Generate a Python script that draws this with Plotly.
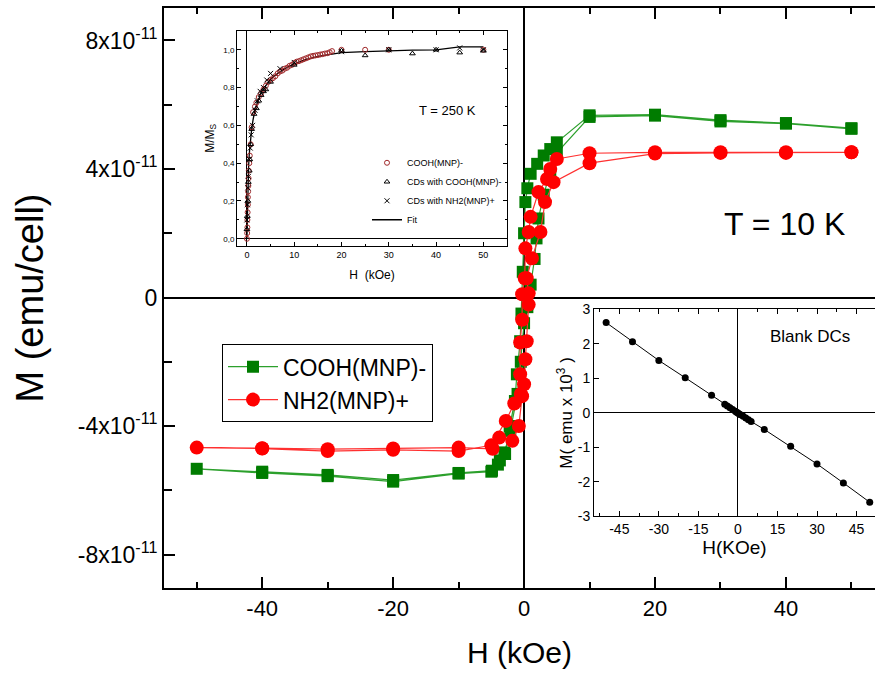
import plotly.graph_objects as go

# ---------------- main hysteresis loops (T = 10 K) ----------------
cooh_H = [50, 40, 30, 20, 10, 5, 4, 3, 2, 1, 0.5, 0.2, 0, -0.2, -0.4, -0.6, -1.1, -1.4, -2.2, -2.9, -3.7, -4.9,
          -10, -20, -30, -40, -50,
          -40, -30, -20, -10, -5, -4, -3, -2.1, -1, -0.5, 0, 0.5, 1.0, 1.6, 1.9, 2.2, 3.0, 4.0, 5.0,
          10, 20, 30, 40, 50]
cooh_M = [5.27, 5.43, 5.52, 5.69, 5.67, 4.83, 4.62, 4.42, 4.16, 3.85, 3.4, 2.97, 2.0, 0.8, -0.5, -1.36, -2.39, -3.22, -4.0, -4.87, -5.07, -5.39,
          -5.46, -5.68, -5.52, -5.42, -5.33,
          -5.46, -5.56, -5.73, -5.48, -5.42, -5.2, -4.82, -4.15, -3.0, -2.0, -0.8, -0.3, 0.4, 1.2, 1.84, 2.46, 3.2, 3.9, 4.5,
          5.62, 5.66, 5.48, 5.41, 5.25]

nh2_H = [50, 40, 30, 20, 10, 5, 4, 3.5, 2.2, 1.0, 0.7, 0.2, 0.1, -0.3, -0.3, -0.6, -0.6, -0.3, -0.8, -1.8, -3.8, -4.8,
         -10, -20, -30, -40, -50,
         -40, -30, -20, -10, -5, -2.8, -1.5, -0.5, 0, 0.2, 0.4, 0.7, 0.7, 0.4, 1.2, 2.5, 3.2, 4.5,
         10, 20, 30, 40, 50]
nh2_M = [4.52, 4.52, 4.52, 4.52, 4.49, 4.31, 4.0, 3.69, 3.28, 2.51, 2.04, 1.53, 0.6, 0.1, -0.69, -1.4, -2.39, -3.07, -4.0, -4.46, -4.36, -4.71,
         -4.67, -4.70, -4.72, -4.69, -4.67,
         -4.70, -4.78, -4.74, -4.78, -4.60, -3.84, -3.3, -3.0, -2.7, -1.92, -1.36, -0.22, 0.13, 0.6, 1.22, 2.04, 2.97, 3.59,
         4.18, 4.48, 4.50, 4.50, 4.52]

# ---------------- inset 1: M/Ms at 250 K ----------------
in_cooh_H = [0, 0.05, 0.1, 0.1, 0.15, 0.2, 0.2, 0.25, 0.3, 0.35, 0.4, 0.5, 0.6, 0.8, 1.0, 1.3, 1.7, 2.0, 2.5, 3.0,
             3.5, 4.0, 4.5, 5.0, 5.5, 6.0, 6.5, 7.0, 7.5, 8.0, 8.5, 9.0, 9.5, 10, 10.5, 11, 11.5, 12, 12.5, 13,
             13.5, 14, 14.5, 15, 15.5, 16, 16.5, 17, 17.5, 18, 20, 25, 30, 50]
in_cooh_M = [0, 0.03, 0.06, 0.1, 0.14, 0.18, 0.22, 0.25, 0.28, 0.32, 0.36, 0.4, 0.44, 0.5, 0.59, 0.67, 0.7, 0.72, 0.75, 0.77,
             0.79, 0.81, 0.83, 0.84, 0.85, 0.86, 0.875, 0.885, 0.89, 0.9, 0.905, 0.915, 0.92, 0.93, 0.937, 0.94, 0.945, 0.95, 0.955, 0.96,
             0.965, 0.968, 0.97, 0.972, 0.975, 0.977, 0.98, 0.982, 0.987, 0.993, 1.0, 1.0, 1.0, 1.0]
in_cdc_H = [0, 0.1, 0.2, 0.3, 0.5, 0.6, 0.8, 1.0, 1.5, 2.0, 2.5, 3.0, 3.5, 4.0, 5.0, 10, 20, 25, 30, 35, 40, 45, 50]
in_cdc_M = [0.05, 0.12, 0.2, 0.3, 0.36, 0.42, 0.5, 0.58, 0.66, 0.69, 0.73, 0.76, 0.78, 0.79, 0.83, 0.92, 0.995, 0.97, 1.0, 0.98, 1.0, 0.985, 0.995]
in_cdn_H = [0, 0.1, 0.2, 0.3, 0.5, 0.7, 0.9, 1.2, 1.7, 2.2, 2.8, 3.5, 4.2, 5.0, 7.0, 10, 20, 30, 40, 45, 50]
in_cdn_M = [0.1, 0.18, 0.27, 0.33, 0.42, 0.48, 0.55, 0.6, 0.68, 0.73, 0.78, 0.8, 0.84, 0.875, 0.9, 0.933, 0.99, 1.0, 1.0, 1.01, 1.0]
fit_H = [0, 0.1, 0.2, 0.35, 0.5, 0.7, 1.0, 1.3, 1.7, 2.2, 3, 4, 5, 6, 7, 8, 10, 12, 15, 18, 20, 25, 30, 35, 40, 45, 50]
fit_M = [0, 0.17, 0.28, 0.38, 0.45, 0.52, 0.58, 0.63, 0.68, 0.72, 0.77, 0.81, 0.845, 0.865, 0.885, 0.9, 0.925, 0.945, 0.965,
         0.978, 0.985, 0.99, 0.995, 0.998, 1.0, 1.015, 1.015]

# ---------------- inset 2: blank DCs ----------------
blank_H = [-50, -40, -30, -20, -10, -5, -4, -3, -2, -1, -0.5, 0, 0.5, 1, 2, 3, 4, 5, 10, 20, 30, 40, 50]
blank_M = [2.62, 2.06, 1.52, 1.02, 0.51, 0.25, 0.2, 0.15, 0.1, 0.05, 0.02, 0, -0.03, -0.05, -0.1, -0.15, -0.2, -0.25,
           -0.48, -0.97, -1.48, -2.03, -2.59]

# tick labels
main_xticks = [-40, -20, 0, 20, 40]
main_xticktext = ["-40", "-20", "0", "20", "40"]
main_yticks = [-8e-11, -4e-11, 0, 4e-11, 8e-11]
main_yticktext = ["-8x10<sup>-11</sup>", "-4x10<sup>-11</sup>", "0", "4x10<sup>-11</sup>", "8x10<sup>-11</sup>"]
in1_xticks = [0, 10, 20, 30, 40, 50]
in1_xticktext = ["0", "10", "20", "30", "40", "50"]
in1_yticks = [0, 0.2, 0.4, 0.6, 0.8, 1.0]
in1_yticktext = ["0,0", "0,2", "0,4", "0,6", "0,8", "1,0"]
in2_xticks = [-45, -30, -15, 0, 15, 30, 45]
in2_xticktext = ["-45", "-30", "-15", "0", "15", "30", "45"]
in2_yticks = [-3, -2, -1, 0, 1, 2, 3]
in2_yticktext = ["-3", "-2", "-1", "0", "1", "2", "3"]

FONT = "Arial, Liberation Sans, sans-serif"
GREEN = "#007c00"
RED = "#ff0000"

fig = go.Figure()

fig.add_trace(go.Scatter(x=cooh_H, y=[v * 1e-11 for v in cooh_M], mode="lines+markers", name="COOH(MNP)-",
                         line=dict(color="#2ca02c", width=1.2), marker=dict(symbol="square", size=12, color=GREEN),
                         xaxis="x", yaxis="y"))
fig.add_trace(go.Scatter(x=nh2_H, y=[v * 1e-11 for v in nh2_M], mode="lines+markers", name="NH2(MNP)+",
                         line=dict(color="#ff3030", width=1.2), marker=dict(symbol="circle", size=14, color=RED),
                         xaxis="x", yaxis="y"))

# inset 1
fig.add_trace(go.Scatter(x=fit_H, y=fit_M, mode="lines", name="Fit", line=dict(color="black", width=1.3),
                         xaxis="x2", yaxis="y2", legend="legend2", legendrank=4))
fig.add_trace(go.Scatter(x=in_cooh_H, y=in_cooh_M, mode="markers", name="COOH(MNP)-",
                         marker=dict(symbol="circle-open", size=5, color="#a0282a", line=dict(width=1)),
                         xaxis="x2", yaxis="y2", legend="legend2", legendrank=1))
fig.add_trace(go.Scatter(x=in_cdc_H, y=in_cdc_M, mode="markers", name="CDs with COOH(MNP)-",
                         marker=dict(symbol="triangle-up-open", size=5, color="black", line=dict(width=1)),
                         xaxis="x2", yaxis="y2", legend="legend2", legendrank=2))
fig.add_trace(go.Scatter(x=in_cdn_H, y=in_cdn_M, mode="markers", name="CDs with NH2(MNP)+",
                         marker=dict(symbol="x-thin-open", size=5, color="black", line=dict(width=1)),
                         xaxis="x2", yaxis="y2", legend="legend2", legendrank=3))

# inset 2
fig.add_trace(go.Scatter(x=blank_H, y=blank_M, mode="lines+markers", name="Blank DCs", showlegend=False,
                         line=dict(color="black", width=1), marker=dict(symbol="circle", size=7, color="black"),
                         xaxis="x3", yaxis="y3"))

# plot-area geometry: left 164, right 875, top 5, bottom 588 (px)
W, H = 875, 680
L, R, T, B = 164, 875, 5, 588
def px(xp):
    return (xp - L) / (R - L)
def py(yp):
    return (B - yp) / (B - T)

axis_common = dict(showline=True, linecolor="black", ticks="inside", tickcolor="black", showgrid=False)

fig.update_layout(
    width=W, height=H,
    margin=dict(l=L, r=W - R, t=T, b=H - B, pad=0),
    paper_bgcolor="white", plot_bgcolor="white",
    font=dict(family=FONT, color="black"),
    xaxis=dict(**axis_common, domain=[0, 1], range=[-55, 53.6], linewidth=2, mirror="allticks",
               tickvals=main_xticks, ticktext=main_xticktext, ticklen=11, tickwidth=2,
               minor=dict(dtick=10, tick0=0, ticks="inside", ticklen=6, tickwidth=2, tickcolor="black"),
               tickfont=dict(size=22), zeroline=True, zerolinecolor="black", zerolinewidth=2,
               title=dict(text="H (kOe)", font=dict(size=30), standoff=22), anchor="y"),
    yaxis=dict(**axis_common, domain=[0, 1], range=[-9.04e-11, 9.01e-11], linewidth=2,
               tickvals=main_yticks, ticktext=main_yticktext, ticklen=11, tickwidth=2,
               minor=dict(dtick=2e-11, tick0=0, ticks="inside", ticklen=8, tickwidth=2, tickcolor="black"),
               tickfont=dict(size=23), zeroline=True, zerolinecolor="black", zerolinewidth=2,
               title=dict(text="M (emu/cell)", font=dict(size=38), standoff=22), anchor="x"),
    # inset 1
    xaxis2=dict(**axis_common, domain=[px(237), px(507)], range=[-2.1, 55], linewidth=1, mirror="allticks",
                tickvals=in1_xticks, ticktext=in1_xticktext, ticklen=4,
                minor=dict(dtick=5, ticks="inside", ticklen=2, tickcolor="black"),
                tickfont=dict(size=9), zeroline=True, zerolinecolor="black", zerolinewidth=1,
                title=dict(text="H  (kOe)", font=dict(size=12), standoff=12), anchor="y2"),
    yaxis2=dict(**axis_common, domain=[py(244), py(28)], range=[-0.037, 1.1], linewidth=1, mirror="allticks",
                tickvals=in1_yticks, ticktext=in1_yticktext, ticklen=4,
                minor=dict(dtick=0.1, ticks="inside", ticklen=2, tickcolor="black"),
                tickfont=dict(size=8), zeroline=True, zerolinecolor="black", zerolinewidth=1,
                title=dict(text="M/M<sub>S</sub>", font=dict(size=12), standoff=6), anchor="x2"),
    # inset 2
    xaxis3=dict(**axis_common, domain=[px(594), 1], range=[-54.6, 52], linewidth=1, mirror="allticks",
                tickvals=in2_xticks, ticktext=in2_xticktext, ticklen=5,
                minor=dict(dtick=7.5, tick0=0, ticks="inside", ticklen=3, tickcolor="black"),
                tickfont=dict(size=14), zeroline=True, zerolinecolor="black", zerolinewidth=1,
                title=dict(text="H(KOe)", font=dict(size=19), standoff=2), anchor="y3"),
    yaxis3=dict(**axis_common, domain=[py(516), py(308)], range=[-3, 3], linewidth=1,
                tickvals=in2_yticks, ticktext=in2_yticktext, ticklen=5, tickfont=dict(size=14),
                zeroline=True, zerolinecolor="black", zerolinewidth=1,
                title=dict(text="M( emu x 10<sup>3</sup> )", font=dict(size=17), standoff=0), anchor="x3"),
    legend=dict(x=px(222), y=py(343), xanchor="left", yanchor="top", bgcolor="white",
                bordercolor="black", borderwidth=1, font=dict(size=23), tracegroupgap=0,
                itemwidth=50),
    legend2=dict(x=px(367), y=py(146), xanchor="left", yanchor="top", bgcolor="rgba(0,0,0,0)",
                 borderwidth=0, font=dict(size=9), tracegroupgap=0, itemwidth=30),
    annotations=[
        dict(text="T = 10 K", x=px(784), y=py(222), xref="paper", yref="paper", showarrow=False,
             font=dict(size=32), xanchor="center", yanchor="middle"),
        dict(text="T = 250 K", x=px(447), y=py(108), xref="paper", yref="paper", showarrow=False,
             font=dict(size=13), xanchor="center", yanchor="middle"),
        dict(text="Blank DCs", x=px(810), y=py(335), xref="paper", yref="paper", showarrow=False,
             font=dict(size=17), xanchor="center", yanchor="middle"),
    ],
    showlegend=True,
)

fig.write_html("out.html")
